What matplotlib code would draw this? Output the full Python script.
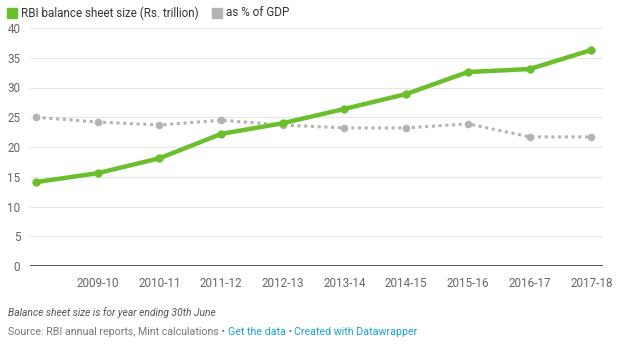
import matplotlib
matplotlib.use('Agg')
import matplotlib.pyplot as plt
from matplotlib.patches import Rectangle

plt.rcParams['font.family'] = ['Roboto', 'DejaVu Sans']

years = ['2008-09', '2009-10', '2010-11', '2011-12', '2012-13',
         '2013-14', '2014-15', '2015-16', '2016-17', '2017-18']
balance_sheet = [14.1, 15.6, 18.1, 22.2, 24.0, 26.4, 28.9, 32.6, 33.1, 36.3]
pct_gdp = [25.0, 24.2, 23.7, 24.5, 23.7, 23.2, 23.2, 23.9, 21.7, 21.7]
yticks = [0, 5, 10, 15, 20, 25, 30, 35, 40]

green = '#6bbf2c'
grey = '#b3b3b3'
W, H = 624, 345

fig = plt.figure(figsize=(W / 100, H / 100), dpi=100)
ax = fig.add_axes([30 / W, 79 / H, 573 / W, 238 / H])

x = list(range(len(years)))
ax.plot(x, pct_gdp, color=grey, lw=2.2, ls=(0, (1, 1.2)), marker='o', ms=5.5,
        markeredgewidth=0, zorder=3)
ax.plot(x, balance_sheet, color=green, lw=3.2, marker='o', ms=6,
        markeredgewidth=0, zorder=4)

ax.set_xlim(-0.097, 9.19)
ax.set_ylim(0, 40)
for v in yticks[1:]:
    ax.axhline(v, color='#e6e6e6', lw=0.8, zorder=1)
ax.axhline(0, color='#333333', lw=1.2, zorder=2)

ax.set_yticks(yticks)
ax.set_yticklabels([str(v) for v in yticks])
ax.set_xticks(x[1:])
ax.set_xticklabels(years[1:])
ax.tick_params(axis='both', length=0, labelsize=8.4, colors='#666666')
ax.tick_params(axis='y', pad=7)
ax.tick_params(axis='x', pad=8)
for s in ax.spines.values():
    s.set_visible(False)

# legend
fig.patches.append(Rectangle((7 / W, 1 - 18 / H), 10 / W, 10 / H,
                             transform=fig.transFigure, color=green))
fig.text(21 / W, 1 - 13 / H, 'RBI balance sheet size (Rs. trillion)',
         fontsize=8.4, color='#333333', va='center')
fig.patches.append(Rectangle((212 / W, 1 - 18 / H), 10 / W, 10 / H,
                             transform=fig.transFigure, color=grey))
fig.text(226 / W, 1 - 13 / H, 'as % of GDP',
         fontsize=8.4, color='#333333', va='center')

# notes
fig.text(8 / W, 1 - 313 / H, 'Balance sheet size is for year ending 30th June',
         fontsize=7.4, style='italic', color='#555555', va='center')
fs = 7.7
t = fig.text(8 / W, 1 - 332 / H, 'Source: RBI annual reports, Mint calculations \u2022 ',
             fontsize=fs, color='#777777', va='center')
fig.canvas.draw()
bb = t.get_window_extent()
t2 = fig.text(bb.x1 / W, 1 - 332 / H, 'Get the data', fontsize=fs,
              color='#18a1cd', va='center')
fig.canvas.draw()
bb = t2.get_window_extent()
t3 = fig.text(bb.x1 / W, 1 - 332 / H, ' \u2022 ', fontsize=fs,
              color='#777777', va='center')
fig.canvas.draw()
bb = t3.get_window_extent()
fig.text(bb.x1 / W, 1 - 332 / H, 'Created with Datawrapper', fontsize=fs,
         color='#18a1cd', va='center')

fig.savefig('out.png', dpi=100)
